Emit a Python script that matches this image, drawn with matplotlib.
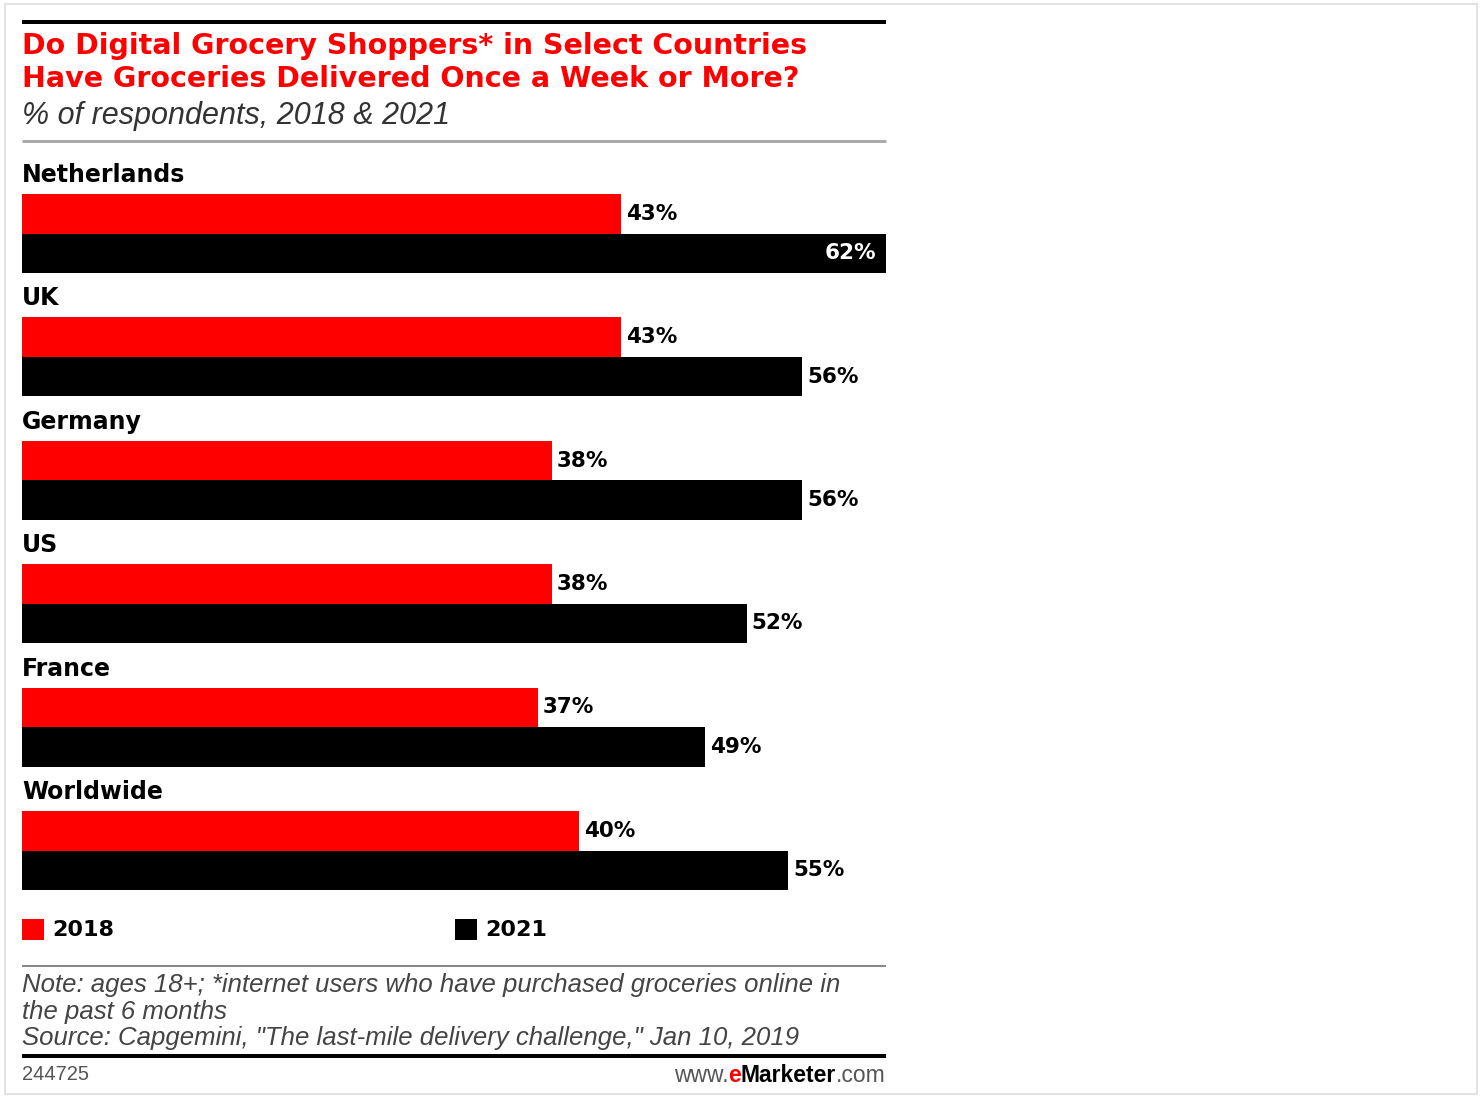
import matplotlib
matplotlib.use("Agg")
import matplotlib.pyplot as plt
from matplotlib.patches import Rectangle
from matplotlib.lines import Line2D

# data
countries = ["Netherlands", "UK", "Germany", "US", "France", "Worldwide"]
share_2018 = [43, 43, 38, 38, 37, 40]
share_2021 = [62, 56, 56, 52, 49, 55]
years = ["2018", "2021"]

RED = "#ff0000"
W, H = 1482, 1097


def fx(x):
    return x / W


def fy(y):
    return 1 - y / H


def hline(fig, y, lw_px, color, x0=22, x1=886):
    fig.add_artist(Line2D([fx(x0), fx(x1)], [fy(y), fy(y)], lw=lw_px * 0.72,
                          color=color, solid_capstyle="butt"))


fig = plt.figure(figsize=(W / 100, H / 100), dpi=100)
fig.patch.set_facecolor("white")

# outer light frame
fig.add_artist(Rectangle((fx(5), fy(1094)), fx(1477) - fx(5), fy(4) - fy(1094),
                         fill=False, edgecolor="#e3e3e3", lw=1.5))

# header
hline(fig, 22, 4, "black")
fig.text(fx(22), fy(46), "Do Digital Grocery Shoppers* in Select Countries",
         color=RED, fontsize=20.5, fontweight="bold", va="center")
fig.text(fx(22), fy(79), "Have Groceries Delivered Once a Week or More?",
         color=RED, fontsize=20.5, fontweight="bold", va="center")
sans = ["Liberation Sans", "DejaVu Sans"]
fig.text(fx(22), fy(116), "% of respondents, 2018 & 2021", color="#333333",
         fontsize=22, style="italic", family=sans, va="center")
hline(fig, 141, 3, "#aaaaaa")

# bars, y in pixel units of the figure
ax = fig.add_axes([fx(22), fy(900), fx(886) - fx(22), fy(150) - fy(900)])
ax.set_xlim(0, max(share_2021))
ax.set_ylim(900, 150)
ax.axis("off")

step = 123.4
label_y = [175 + step * i for i in range(len(countries))]
red_y = [y + 38.75 for y in label_y]
black_y = [y + 78.25 for y in label_y]

ax.barh(red_y, share_2018, height=39.5, color=RED, left=0)
ax.barh(black_y, share_2021, height=39.5, color="black", left=0)

for i, name in enumerate(countries):
    ax.text(0, label_y[i], name, fontsize=17, fontweight="bold", va="center", ha="left")
    for v, y in ((share_2018[i], red_y[i]), (share_2021[i], black_y[i])):
        if v >= max(share_2021) - 2:
            ax.text(v - 0.7, y, f"{v}%", color="white", fontsize=15.5,
                    fontweight="bold", va="center", ha="right")
        else:
            ax.text(v + 0.35, y, f"{v}%", color="black", fontsize=15.5,
                    fontweight="bold", va="center", ha="left")

# legend
for x0, col, lab in ((22, RED, years[0]), (455, "black", years[1])):
    fig.add_artist(Rectangle((fx(x0), fy(940)), fx(22), fy(919) - fy(940),
                             facecolor=col, edgecolor="none"))
    fig.text(fx(x0 + 30), fy(929.5), lab, fontsize=16, fontweight="bold", va="center")

# footer
hline(fig, 966, 2, "#888888")
notes = ["Note: ages 18+; *internet users who have purchased groceries online in",
         "the past 6 months",
         "Source: Capgemini, \"The last-mile delivery challenge,\" Jan 10, 2019"]
for k, line in enumerate(notes):
    fig.text(fx(22), fy(985 + 26.5 * k), line, fontsize=18.5, style="italic",
             color="#444444", family=sans, va="center")
hline(fig, 1056, 4, "black")
fig.text(fx(22), fy(1075), "244725", fontsize=14.5, color="#555555",
         family=sans, va="center")

fs = 16.5
com = fig.text(fx(886), fy(1075), ".com", fontsize=fs, color="#555555",
               family=sans, va="center", ha="right")
mk = fig.text(0, 0, "", fontsize=fs)
mk = plt.annotate("Marketer", xy=(0, 0), xycoords=com, fontsize=fs, color="black",
                  fontweight="bold", family=sans, va="bottom", ha="right",
                  annotation_clip=False)
e = plt.annotate("e", xy=(0, 0), xycoords=mk, fontsize=fs, color=RED,
                 fontweight="bold", family=sans, va="bottom", ha="right",
                 annotation_clip=False)
plt.annotate("www.", xy=(0, 0), xycoords=e, fontsize=fs, color="#555555",
             family=sans, va="bottom", ha="right", annotation_clip=False)

fig.savefig("out.png", dpi=100)
